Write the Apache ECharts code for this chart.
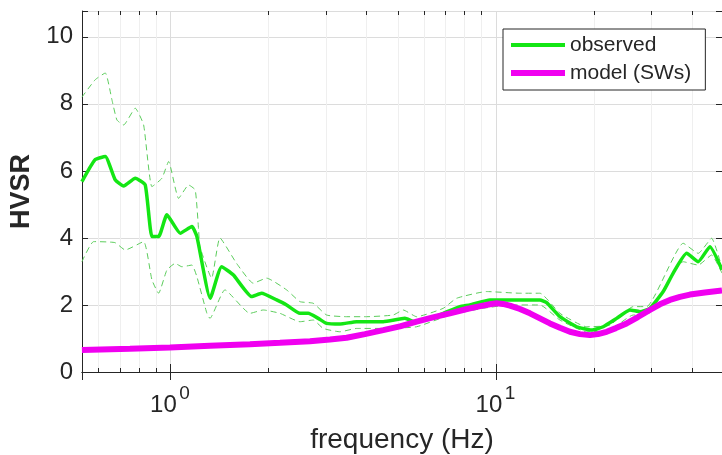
<!DOCTYPE html>
<html>
<head>
<meta charset="utf-8">
<script src="https://cdn.jsdelivr.net/npm/echarts@6/dist/echarts.min.js"></script>
<style>html,body{margin:0;padding:0;background:#fff}#c{width:722px;height:455px}</style>
</head>
<body>
<div id="c"></div>
<script>
// ---- data (frequency in Hz, HVSR values) ----
const obsF = [0.5347,0.5861,0.6307,0.6768,0.7183,0.7797,0.8368,0.8774,0.9199,0.9754,1.0718,1.1642,1.2061,1.3251,1.4364,1.5590,1.7762,1.9062,2.1204,2.2750,2.4998,2.6508,2.8452,3.0194,3.3174,3.7330,3.9114,4.5060,5.2530,5.6389,6.2693,6.8881,7.7510,8.3199,9.5856,11.851,13.654,14.317,15.730,17.703,19.678,21.364,23.488,25.804,27.695,29.723,32.658,35.050,38.542,41.831,45.444,49.5];
const obsV = [5.68,6.33,6.43,5.73,5.55,5.78,5.58,4.04,4.04,4.69,4.14,4.34,4.04,2.20,3.14,2.90,2.25,2.35,2.15,2.00,1.75,1.75,1.60,1.45,1.43,1.50,1.50,1.50,1.60,1.50,1.60,1.75,1.95,2.00,2.15,2.15,2.15,2.07,1.65,1.35,1.25,1.35,1.60,1.85,1.80,1.90,2.40,2.95,3.54,3.29,3.74,3.05];

const upF = [0.5347,0.5875,0.6307,0.6612,0.6849,0.7183,0.7797,0.8273,0.8774,0.9416,0.9874,1.0597,1.1372,1.1917,1.2206,1.2320,1.3384,1.4193,1.5970,1.7963,1.9747,2.2750,2.4998,2.7462,3.0194,3.4784,4.0069,4.8360,5.1903,5.7069,6.8881,7.5727,9.3633,11.851,13.654,15.730,18.993,22.400,26.413,29.038,37.624,41.831,46.000,49.5];
const upV = [8.20,8.72,8.92,8.12,7.52,7.37,7.87,7.37,5.53,5.78,6.28,5.18,5.58,5.43,4.24,3.74,2.80,4.00,3.24,2.65,2.80,2.45,2.10,2.05,1.70,1.65,1.65,1.70,1.85,1.65,1.90,2.20,2.40,2.35,2.35,1.75,1.35,1.40,1.95,1.95,3.84,3.54,3.99,3.10];

const loF = [0.5347,0.5808,0.6754,0.7265,0.8273,0.8774,0.9199,0.9754,1.0344,1.0847,1.1642,1.2061,1.2943,1.3224,1.4702,1.7547,1.9279,2.1703,2.4998,2.7462,2.9475,3.3174,3.7330,4.5060,5.7069,7.2226,9.1411,11.041,13.654,15.730,18.993,22.400,26.413,29.038,37.624,41.831,46.000,49.5];
const loV = [3.29,3.89,3.86,3.64,3.89,2.75,2.35,3.04,3.24,3.14,3.19,2.84,1.75,1.60,2.45,1.75,1.85,1.75,1.50,1.55,1.30,1.20,1.30,1.30,1.35,1.70,1.90,2.00,2.00,1.55,1.20,1.25,1.70,1.70,3.29,3.19,3.49,2.95];

const modF = [0.5347,0.7510,0.9965,1.3224,1.7547,2.1703,2.6830,3.0903,3.4784,3.9584,4.5060,5.0722,5.7069,6.4049,7.2226,8.146,8.804,9.585,10.051,10.508,11.041,11.851,12.721,13.654,14.655,15.730,16.880,18.12,19.444,20.58,21.886,23.37,25.206,27.31,29.723,31.90,34.242,36.76,39.45,43.86,49.5];
const modV = [0.66,0.69,0.73,0.78,0.83,0.87,0.92,0.97,1.02,1.13,1.25,1.36,1.50,1.63,1.75,1.88,1.95,2.02,2.05,2.03,1.98,1.88,1.75,1.60,1.45,1.32,1.20,1.13,1.10,1.13,1.20,1.31,1.45,1.64,1.85,2.02,2.15,2.24,2.31,2.37,2.43];

const minorF = [0.6,0.7,0.8,0.9,2,3,4,5,6,7,8,9,20,30,40];
const yTicks = [0,2,4,6,8,10];

// ---- chart ----
const FONT = 'Liberation Sans, Arial, Helvetica, sans-serif';
const TXT = '#262626';
const GREEN = '#14e614';
const MAG = '#f000f0';
const X_MIN = 0.535, X_MAX = 49.5, Y_MAX = 10.77;
const zip = (a, b) => a.map((v, i) => [v, b[i]]);
const isPow10 = v => Math.abs(Math.log10(v) - Math.round(Math.log10(v))) < 1e-6;

const chart = echarts.init(document.getElementById('c'), null, {renderer: 'canvas'});
const xBase = {
  type: 'log', logBase: 10, min: X_MIN, max: X_MAX,
  axisLine: {show: true, lineStyle: {color: TXT, width: 1}},
  axisTick: {show: true, inside: true, length: 8, lineStyle: {color: TXT}},
  minorTick: {show: false}
};
const yBase = {
  type: 'value', min: 0, max: Y_MAX, interval: 2,
  axisLine: {show: true, lineStyle: {color: TXT, width: 1}},
  axisTick: {show: true, inside: true, length: 6, lineStyle: {color: TXT}}
};

chart.setOption({
  animation: false,
  backgroundColor: '#fff',
  grid: {left: 82, right: 0, top: 11, bottom: 83, containLabel: false, outerBoundsMode: 'none'},
  xAxis: [
    Object.assign({}, xBase, {
      position: 'bottom',
      name: 'frequency (Hz)', nameLocation: 'middle', nameGap: 54,
      nameTextStyle: {fontFamily: FONT, fontSize: 28, color: TXT},
      splitLine: {show: true, lineStyle: {color: '#dcdcdc', width: 1}},
      axisLabel: {
        margin: 20, fontFamily: FONT, color: TXT,
        formatter: v => isPow10(v) ? '{s|' + Math.round(Math.log10(v)) + '}\n{b|10}' : '',
        rich: {
          b: {fontFamily: FONT, fontSize: 24, color: TXT, lineHeight: 18, padding: [0, 14, 0, 0]},
          s: {fontFamily: FONT, fontSize: 19, color: TXT, lineHeight: 4, padding: [0, 0, 0, 28]}
        }
      }
    }),
    Object.assign({}, xBase, {
      position: 'top', axisLabel: {show: false}, splitLine: {show: false}
    })
  ],
  yAxis: [
    Object.assign({}, yBase, {
      position: 'left',
      name: 'HVSR', nameLocation: 'middle', nameGap: 43,
      nameTextStyle: {fontFamily: FONT, fontSize: 27, fontWeight: 'bold', color: TXT},
      splitLine: {show: true, lineStyle: {color: '#dcdcdc', width: 1}},
      axisLabel: {margin: 9, fontFamily: FONT, fontSize: 24, color: TXT,
                  formatter: v => (yTicks.indexOf(v) >= 0 ? String(v) : '')}
    }),
    Object.assign({}, yBase, {
      position: 'right', axisLabel: {show: false}, splitLine: {show: false}
    })
  ],
  legend: {
    data: [
      {name: 'observed', lineStyle: {width: 4, color: GREEN}},
      {name: 'model (SWs)', lineStyle: {width: 6, color: MAG}}
    ],
    orient: 'vertical', left: 503, top: 29,
    padding: [5, 14, 6, 5], itemGap: 6,
    itemWidth: 54, itemHeight: 14,
    itemStyle: {opacity: 0},
    backgroundColor: '#fff', borderColor: TXT, borderWidth: 1, borderRadius: 0,
    textStyle: {fontFamily: FONT, fontSize: 21, color: TXT, lineHeight: 22},
    selectedMode: false
  },
  series: [
    {
      type: 'custom', name: 'minor', silent: true, z: 1,
      xAxisIndex: 0, yAxisIndex: 0,
      data: minorF.map(f => [f]),
      renderItem: (params, api) => {
        const f = api.value(0);
        const p0 = api.coord([f, 0]);
        const p1 = api.coord([f, Y_MAX]);
        const x = Math.round(p0[0]) + 0.5;
        return {type: 'group', children: [
          {type: 'line', shape: {x1: x, y1: p0[1], x2: x, y2: p1[1]},
           style: {stroke: '#efefef', lineWidth: 1}},
          {type: 'line', shape: {x1: x, y1: p0[1], x2: x, y2: p0[1] - 4},
           style: {stroke: TXT, lineWidth: 1}},
          {type: 'line', shape: {x1: x, y1: p1[1], x2: x, y2: p1[1] + 4},
           style: {stroke: TXT, lineWidth: 1}}
        ]};
      }
    },
    {
      type: 'line', name: 'upper', data: zip(upF, upV), symbol: 'none', z: 3,
      lineStyle: {color: '#5ccc5c', width: 1, type: [6, 4]}, smooth: 0.15
    },
    {
      type: 'line', name: 'lower', data: zip(loF, loV), symbol: 'none', z: 3,
      lineStyle: {color: '#5ccc5c', width: 1, type: [6, 4]}, smooth: 0.15
    },
    {
      type: 'line', name: 'observed', data: zip(obsF, obsV), symbol: 'none', z: 4,
      itemStyle: {color: GREEN},
      lineStyle: {color: GREEN, width: 3.5}, smooth: 0.15
    },
    {
      type: 'line', name: 'model (SWs)', data: zip(modF, modV), symbol: 'none', z: 5,
      itemStyle: {color: MAG},
      lineStyle: {color: MAG, width: 6}
    }
  ]
});
</script>
</body>
</html>
